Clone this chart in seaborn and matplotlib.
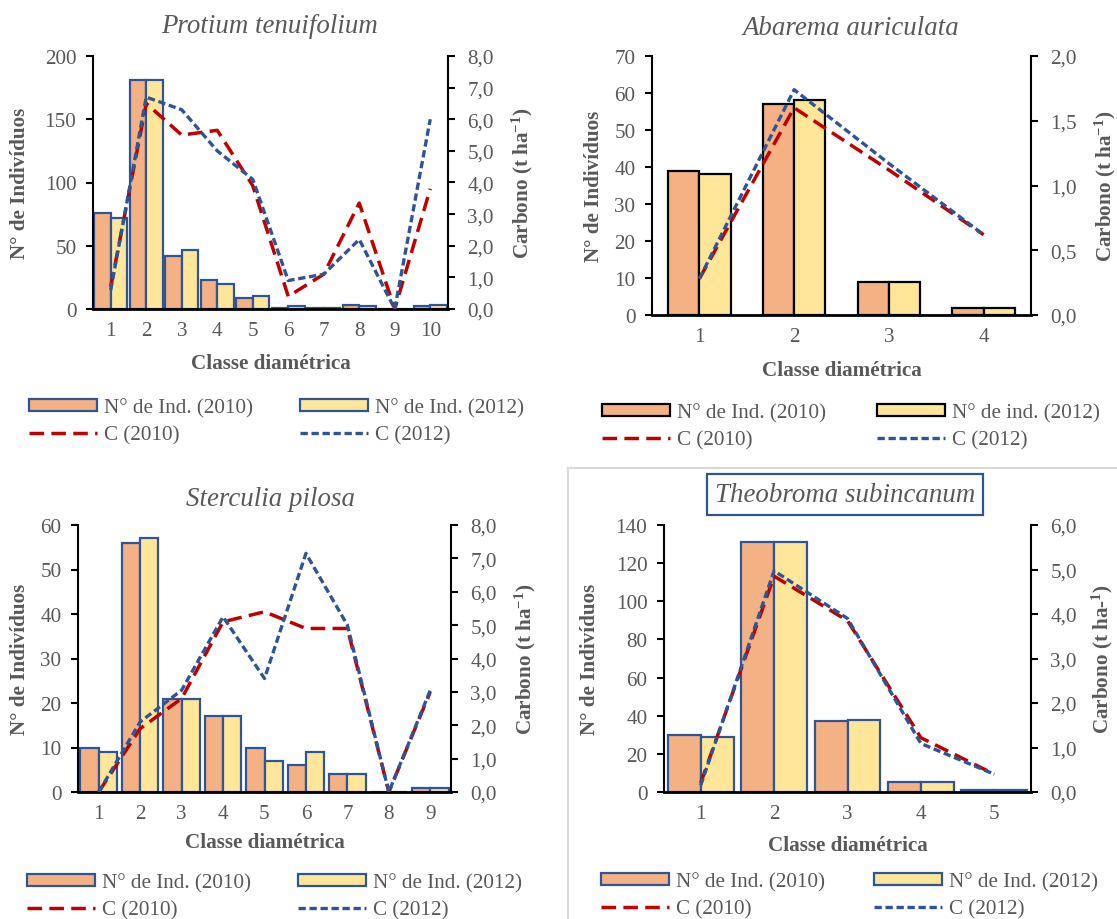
import matplotlib
matplotlib.use("Agg")
import matplotlib.pyplot as plt
from matplotlib.patches import Patch, Rectangle
from matplotlib.lines import Line2D
import numpy as np
import pandas as pd
import seaborn as sns

sns.set_style("white")
plt.rcParams["font.family"] = ["Liberation Serif", "DejaVu Serif"]
plt.rcParams["mathtext.fontset"] = "custom"
plt.rcParams["mathtext.rm"] = "Liberation Serif"
plt.rcParams["mathtext.bf"] = "Liberation Serif:bold"
plt.rcParams["mathtext.it"] = "Liberation Serif:italic"

CINZA = "#595959"
LARANJA = "#F4B183"
AMARELO = "#FFE699"
VERMELHO = "#C00000"
AZUL = "#2F5597"

# Protium tenuifolium
prot_classes = [1, 2, 3, 4, 5, 6, 7, 8, 9, 10]
prot_n2010 = [76, 181, 42, 23, 9, 1, 1, 3, 0, 2]
prot_n2012 = [72, 181, 47, 20, 10, 2, 1, 2, 0, 3]
prot_c2010 = [0.7, 6.5, 5.5, 5.65, 3.9, 0.4, 1.1, 3.35, 0.0, 3.8]
prot_c2012 = [0.6, 6.7, 6.3, 5.0, 4.1, 0.9, 1.1, 2.2, 0.0, 6.0]

# Abarema auriculata
abar_classes = [1, 2, 3, 4]
abar_n2010 = [39, 57, 9, 2]
abar_n2012 = [38, 58, 9, 2]
abar_c2010 = [0.28, 1.6, 1.12, 0.62]
abar_c2012 = [0.28, 1.74, 1.17, 0.62]

# Sterculia pilosa
ster_classes = [1, 2, 3, 4, 5, 6, 7, 8, 9]
ster_n2010 = [10, 56, 21, 17, 10, 6, 4, 0, 1]
ster_n2012 = [9, 57, 21, 17, 7, 9, 4, 0, 1]
ster_c2010 = [0.0, 1.9, 2.8, 5.1, 5.4, 4.9, 4.9, 0.0, 3.0]
ster_c2012 = [0.0, 2.1, 3.05, 5.25, 3.4, 7.15, 5.0, 0.0, 3.05]

# Theobroma subincanum
theo_classes = [1, 2, 3, 4, 5]
theo_n2010 = [30, 131, 37, 5, 1]
theo_n2012 = [29, 131, 38, 5, 1]
theo_c2010 = [0.2, 4.85, 3.85, 1.22, 0.4]
theo_c2012 = [0.15, 4.97, 3.9, 1.09, 0.4]

W, H = 1117, 920
fig = plt.figure(figsize=(W / 100, H / 100), dpi=100)

# moldura cinza do quarto painel
fig.patches.append(Rectangle((568 / W, -0.01), 1.0, 1 - 469 / H + 0.01, transform=fig.transFigure,
                             fc="none", ec="#D9D9D9", lw=1.5, zorder=0))

TAM = 15.2
TRACO_C10 = (0, (4.2, 2.1))
TRACO_C12 = (0, (2.2, 1.1))


def painel(px, titulo, classes, n2010, n2012, c2010, c2012, n_max, n_passo, c_max, c_passo,
           largura, borda, rotulo_c, rotulo_2012, titulo_x, titulo_base, caixa,
           ylab_x, ylab2_x, xlab_y, leg_y, leg_x1, leg_x2):
    esq, topo, dir_, base = px
    ax = fig.add_axes([esq / W, 1 - base / H, (dir_ - esq) / W, (base - topo) / H])
    df = pd.DataFrame({
        "classe": classes * 2,
        "n": n2010 + n2012,
        "ano": ["2010"] * len(classes) + ["2012"] * len(classes),
    })
    sns.barplot(data=df, x="classe", y="n", hue="ano", palette=[LARANJA, AMARELO],
                saturation=1, width=largura, gap=0, edgecolor=borda, linewidth=1.6,
                errorbar=None, legend=False, ax=ax)
    ax2 = ax.twinx()
    pos = list(range(len(classes)))
    sns.lineplot(x=pos, y=c2010, ax=ax2, color=VERMELHO, lw=2.5, linestyle=TRACO_C10)
    sns.lineplot(x=pos, y=c2012, ax=ax2, color=AZUL, lw=2.4, linestyle=TRACO_C12)

    ax.set_xlim(-0.5, len(classes) - 0.5)
    ax.set_ylim(0, n_max)
    ax2.set_ylim(0, c_max)
    ax.set_yticks(np.arange(0, n_max + 1, n_passo))
    cticks = np.arange(0, c_max + c_passo / 2, c_passo)
    ax2.set_yticks(cticks)
    ax2.set_yticklabels([f"{v:.1f}".replace(".", ",") for v in cticks])

    for s in ["top", "right"]:
        ax.spines[s].set_visible(False)
    for s in ["top", "left", "bottom"]:
        ax2.spines[s].set_visible(False)
    for s in [ax.spines["left"], ax2.spines["right"]]:
        s.set_color("black")
        s.set_linewidth(1.5)
    ax.spines["bottom"].set_color("black")
    ax.spines["bottom"].set_linewidth(2.0)
    ax.set_zorder(ax2.get_zorder() - 1)
    ax.patch.set_visible(False)

    ax.tick_params(axis="y", length=5, width=1.5, color="black", pad=7, labelsize=TAM, labelcolor=CINZA, left=True)
    ax.tick_params(axis="x", length=0, pad=9, labelsize=TAM, labelcolor=CINZA)
    ax2.tick_params(axis="y", length=5, width=1.5, color="black", pad=9, labelsize=TAM, labelcolor=CINZA, right=True)

    ax.set_xlabel("Classe diamétrica", fontsize=TAM, fontweight="bold", color=CINZA)
    ax.set_ylabel("N° de Indivíduos", fontsize=TAM, fontweight="bold", color=CINZA)
    ax2.set_ylabel(rotulo_c, fontsize=TAM, fontweight="bold", color=CINZA)
    ax.xaxis.set_label_coords(0.5, (base - xlab_y) / (base - topo))
    ax.yaxis.set_label_coords((ylab_x - esq) / (dir_ - esq), 0.5)
    ax2.yaxis.set_label_coords((ylab2_x - esq) / (dir_ - esq), 0.5)

    kw = dict(ha="center", va="baseline", fontsize=19.4, style="italic", color=CINZA,
              transform=ax.transAxes)
    if caixa:
        kw["bbox"] = dict(boxstyle="square,pad=0.3", fc="white", ec=AZUL, lw=1.6)
    ax.text((titulo_x - esq) / (dir_ - esq), (base - titulo_base) / (base - topo), titulo, **kw)

    leg_kw = dict(loc="center left", frameon=False, fontsize=TAM, labelcolor=CINZA,
                  handlelength=3.2, handleheight=0.5, handletextpad=0.37,
                  labelspacing=0.38, borderpad=0, borderaxespad=0)
    h1 = [Patch(fc=LARANJA, ec=borda, lw=1.6),
          Line2D([], [], color=VERMELHO, lw=2.5, linestyle=TRACO_C10)]
    h2 = [Patch(fc=AMARELO, ec=borda, lw=1.6),
          Line2D([], [], color=AZUL, lw=2.4, linestyle=TRACO_C12)]
    fig.legend(h1, ["N° de Ind. (2010)", "C (2010)"], bbox_to_anchor=(leg_x1 / W, 1 - leg_y / H), **leg_kw)
    fig.legend(h2, [rotulo_2012, "C (2012)"], bbox_to_anchor=(leg_x2 / W, 1 - leg_y / H), **leg_kw)


rot_c = r"Carbono (t ha$^{\mathbf{-1}}$)"

painel((93, 57, 448, 310), "Protium tenuifolium", prot_classes, prot_n2010, prot_n2012,
       prot_c2010, prot_c2012, 200, 50, 8.0, 1.0, 0.92, AZUL, rot_c, "N° de Ind. (2012)",
       270, 33, False, 30, 510, 354, 422, 29, 300)
painel((652, 57, 1031, 316), "Abarema auriculata", abar_classes, abar_n2010, abar_n2012,
       abar_c2010, abar_c2012, 70, 10, 2.0, 0.5, 0.66, "black", rot_c, "N° de ind. (2012)",
       851, 35, False, 604, 1093, 361, 427, 602, 877)
painel((78, 526, 451, 793), "Sterculia pilosa", ster_classes, ster_n2010, ster_n2012,
       ster_c2010, ster_c2012, 60, 10, 8.0, 1.0, 0.88, AZUL, rot_c, "N° de Ind. (2012)",
       270, 506, False, 30, 513, 833, 897, 27, 298)
painel((664, 526, 1031, 793), "Theobroma subincanum", theo_classes, theo_n2010, theo_n2012,
       theo_c2010, theo_c2012, 140, 20, 6.0, 1.0, 0.895, AZUL, r"Carbono (t ha-$^{\mathbf{1}}$)",
       "N° de Ind. (2012)", 845, 502, True, 600, 1090, 836, 896, 601, 874)

fig.savefig("out.png", dpi=100)
